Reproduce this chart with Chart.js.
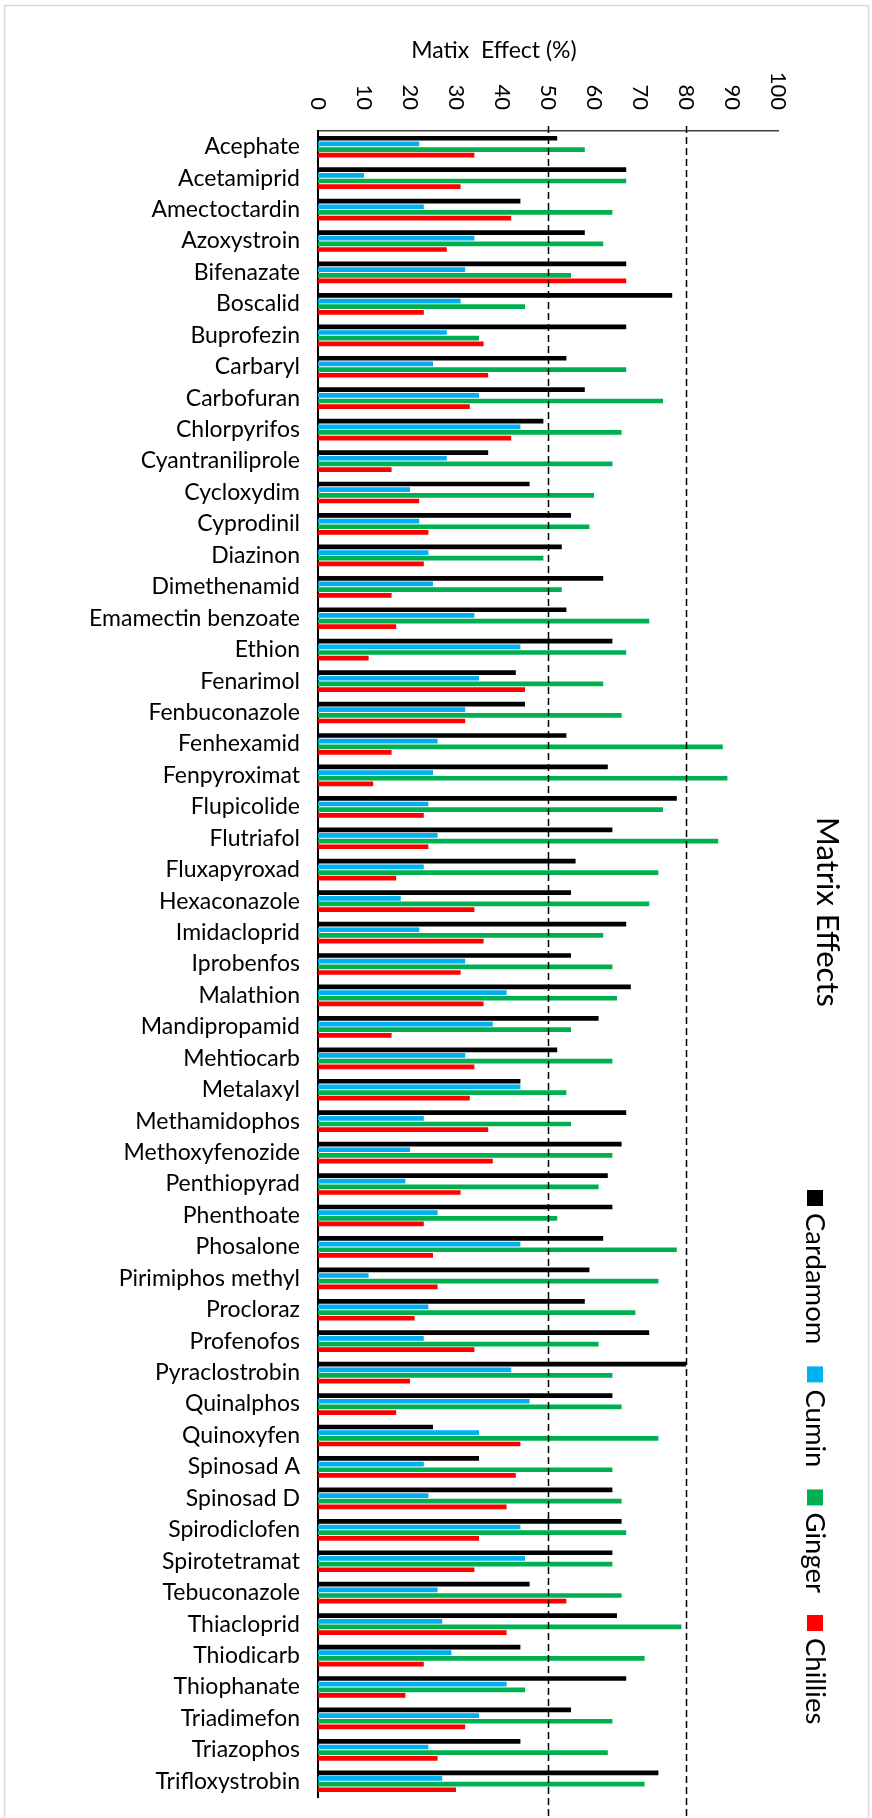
<!DOCTYPE html>
<html>
<head>
<meta charset="utf-8">
<title>Matrix Effects</title>
<script src="https://cdn.jsdelivr.net/npm/chart.js@4.4.0/dist/chart.umd.min.js"></script>
<style>
  html, body { margin: 0; padding: 0; background: #fff; }
  canvas { display: block; }
</style>
</head>
<body>
<canvas id="meChart" width="872" height="1818"></canvas>
<script>
// Data
const pesticides = ['Acephate', 'Acetamiprid', 'Amectoctardin', 'Azoxystroin', 'Bifenazate', 'Boscalid',
  'Buprofezin', 'Carbaryl', 'Carbofuran', 'Chlorpyrifos', 'Cyantraniliprole', 'Cycloxydim', 'Cyprodinil',
  'Diazinon', 'Dimethenamid', 'Emamectin benzoate', 'Ethion', 'Fenarimol', 'Fenbuconazole', 'Fenhexamid',
  'Fenpyroximat', 'Flupicolide', 'Flutriafol', 'Fluxapyroxad', 'Hexaconazole', 'Imidacloprid', 'Iprobenfos',
  'Malathion', 'Mandipropamid', 'Mehtiocarb', 'Metalaxyl', 'Methamidophos', 'Methoxyfenozide', 'Penthiopyrad',
  'Phenthoate', 'Phosalone', 'Pirimiphos methyl', 'Procloraz', 'Profenofos', 'Pyraclostrobin', 'Quinalphos',
  'Quinoxyfen', 'Spinosad A', 'Spinosad D', 'Spirodiclofen', 'Spirotetramat', 'Tebuconazole', 'Thiacloprid',
  'Thiodicarb', 'Thiophanate', 'Triadimefon', 'Triazophos', 'Trifloxystrobin'];

const cardamom = [52, 67, 44, 58, 67, 77, 67, 54, 58, 49, 37, 46, 55, 53, 62, 54, 64, 43, 45, 54, 63, 78, 64, 56, 55, 67, 55,
  68, 61, 52, 44, 67, 66, 63, 64, 62, 59, 58, 72, 80, 64, 25, 35, 64, 66, 64, 46, 65, 44, 67, 55, 44, 74];
const cumin = [22, 10, 23, 34, 32, 31, 28, 25, 35, 44, 28, 20, 22, 24, 25, 34, 44, 35, 32, 26, 25, 24, 26, 23, 18, 22, 32,
  41, 38, 32, 44, 23, 20, 19, 26, 44, 11, 24, 23, 42, 46, 35, 23, 24, 44, 45, 26, 27, 29, 41, 35, 24, 27];
const ginger = [58, 67, 64, 62, 55, 45, 35, 67, 75, 66, 64, 60, 59, 49, 53, 72, 67, 62, 66, 88, 89, 75, 87, 74, 72, 62, 64,
  65, 55, 64, 54, 55, 64, 61, 52, 78, 74, 69, 61, 64, 66, 74, 64, 66, 67, 64, 66, 79, 71, 45, 64, 63, 71];
const chillies = [34, 31, 42, 28, 67, 23, 36, 37, 33, 42, 16, 22, 24, 23, 16, 17, 11, 45, 32, 16, 12, 23, 24, 17, 34, 36, 31,
  36, 16, 34, 33, 37, 38, 31, 23, 25, 26, 21, 34, 20, 17, 44, 43, 41, 35, 34, 54, 41, 23, 19, 32, 26, 30];

const xTicks = [0, 10, 20, 30, 40, 50, 60, 70, 80, 90, 100];
const refLines = [50, 80];

const seriesNames = ['Cardamom', 'Cumin', 'Ginger', 'Chillies'];
const seriesColors = ['#000000', '#00B0F0', '#00B050', '#FF0000'];

Chart.defaults.font.family = 'Lato, "Open Sans", sans-serif';
Chart.defaults.color = '#000';

// Draws frame, dashed reference lines, rotated tick labels, titles and legend
const decorations = {
  id: 'decorations',
  beforeDraw(chart) {
    const ctx = chart.ctx;
    ctx.save();
    ctx.strokeStyle = '#d9d9d9';
    ctx.lineWidth = 1.5;
    ctx.beginPath();
    ctx.moveTo(4.5, chart.height);
    ctx.lineTo(4.5, 5.5);
    ctx.lineTo(868.5, 5.5);
    ctx.lineTo(868.5, chart.height);
    ctx.stroke();
    ctx.restore();
  },
  afterDraw(chart) {
    const {ctx, chartArea} = chart;
    const x = chart.scales.x;

    // dashed lines at 50 and 80
    ctx.save();
    ctx.strokeStyle = '#000';
    ctx.lineWidth = 1.5;
    ctx.setLineDash([7, 4]);
    refLines.forEach(function(v) {
      const px = Math.round(x.getPixelForValue(v)) + 0.5;
      ctx.beginPath();
      ctx.moveTo(px, chartArea.top - 5);
      ctx.lineTo(px, chart.height);
      ctx.stroke();
    });
    ctx.restore();

    // tick labels, rotated clockwise
    ctx.save();
    ctx.fillStyle = '#000';
    ctx.font = '22px Lato, sans-serif';
    ctx.textAlign = 'right';
    ctx.textBaseline = 'middle';
    xTicks.forEach(function(v) {
      ctx.save();
      ctx.translate(x.getPixelForValue(v), 110);
      ctx.rotate(Math.PI / 2);
      ctx.fillText(String(v), 0, 0);
      ctx.restore();
    });
    ctx.restore();

    // axis title
    ctx.save();
    ctx.fillStyle = '#000';
    ctx.font = '23px Lato, sans-serif';
    ctx.textAlign = 'center';
    ctx.textBaseline = 'middle';
    ctx.fillText('Matix  Effect (%)', 494, 51);
    ctx.restore();

    // right-hand title
    ctx.save();
    ctx.fillStyle = '#000';
    ctx.font = '31px Lato, sans-serif';
    ctx.textAlign = 'center';
    ctx.textBaseline = 'middle';
    ctx.translate(827, 912);
    ctx.rotate(Math.PI / 2);
    ctx.fillText('Matrix Effects', 0, 0);
    ctx.restore();

    // legend, rotated clockwise
    ctx.save();
    ctx.font = '27.5px Lato, sans-serif';
    ctx.textAlign = 'left';
    ctx.textBaseline = 'middle';
    let y = 1190;
    seriesNames.forEach(function(name, i) {
      ctx.save();
      ctx.translate(815, y);
      ctx.rotate(Math.PI / 2);
      ctx.fillStyle = seriesColors[i];
      ctx.fillRect(0, -8, 16, 16);
      ctx.fillStyle = '#000';
      ctx.fillText(name, 23, 0);
      ctx.restore();
      y += 23 + ctx.measureText(name).width + 22;
    });
    ctx.restore();
  }
};

const ctx = document.getElementById('meChart').getContext('2d');
const meChart = new Chart(ctx, {
  type: 'bar',
  data: {
    labels: pesticides,
    datasets: [
      { label: seriesNames[0], data: cardamom, backgroundColor: seriesColors[0] },
      { label: seriesNames[1], data: cumin, backgroundColor: seriesColors[1] },
      { label: seriesNames[2], data: ginger, backgroundColor: seriesColors[2] },
      { label: seriesNames[3], data: chillies, backgroundColor: seriesColors[3] }
    ]
  },
  options: {
    indexAxis: 'y',
    responsive: false,
    animation: false,
    devicePixelRatio: 1,
    layout: { padding: { left: 0, top: 0, right: 94, bottom: 21 } },
    datasets: { bar: { categoryPercentage: 0.72, barPercentage: 0.83 } },
    plugins: {
      legend: { display: false },
      tooltip: { enabled: false },
      title: { display: false }
    },
    scales: {
      x: {
        position: 'top',
        min: 0,
        max: 100,
        ticks: { display: false, stepSize: 10 },
        grid: { display: false },
        border: { display: true, color: '#404040', width: 1.5 },
        afterFit: function(scale) {
          scale.height = 131;
          scale.paddingLeft = 0;
          scale.paddingRight = 0;
        }
      },
      y: {
        ticks: { color: '#000', font: { size: 23 }, padding: 18, autoSkip: false },
        grid: { display: false, drawTicks: false },
        border: { display: true, color: '#000', width: 2 },
        afterFit: function(scale) {
          scale.width = 318;
          scale.paddingTop = 0;
          scale.paddingBottom = 0;
        }
      }
    }
  },
  plugins: [decorations]
});
</script>
</body>
</html>
